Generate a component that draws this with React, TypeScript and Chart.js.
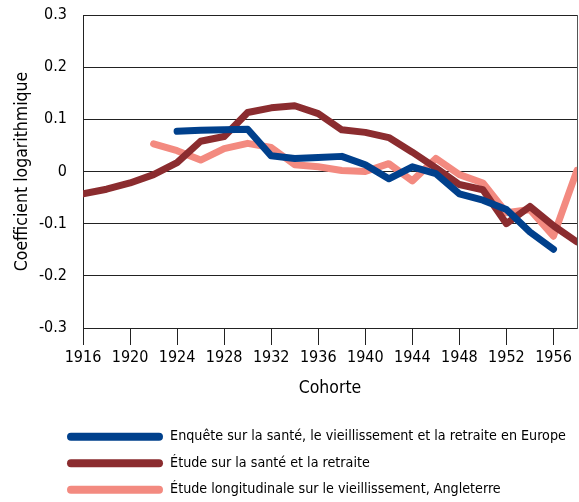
import React, { useEffect, useRef } from "react";
import { Chart, registerables } from "chart.js";

Chart.register(...registerables);

const years = [1916, 1918, 1920, 1922, 1924, 1926, 1928, 1930, 1932, 1934, 1936, 1938, 1940, 1942, 1944, 1946, 1948, 1950, 1952, 1954, 1956, 1958];

const shareValues = [null, null, null, null, 0.077, 0.079, 0.08, 0.081, 0.03, 0.025, 0.027, 0.029, 0.013, -0.014, 0.009, -0.004, -0.043, -0.055, -0.073, -0.116, -0.149, null];
const hrsValues = [-0.043, -0.034, -0.022, -0.006, 0.017, 0.058, 0.067, 0.113, 0.122, 0.126, 0.111, 0.08, 0.075, 0.065, 0.037, 0.007, -0.025, -0.035, -0.1, -0.067, -0.104, -0.135];
const elsaValues = [null, null, null, 0.053, 0.04, 0.022, 0.044, 0.054, 0.046, 0.013, 0.009, 0.002, 0.0, 0.015, -0.018, 0.025, -0.006, -0.022, -0.079, -0.073, -0.124, 0.002];

const seriesLabels = [
  "Enquête sur la santé, le vieillissement et la retraite en Europe",
  "Étude sur la santé et la retraite",
  "Étude longitudinale sur le vieillissement, Angleterre",
];

const xTickYears = [1916, 1920, 1924, 1928, 1932, 1936, 1940, 1944, 1948, 1952, 1956];
const yTickValues = [-0.3, -0.2, -0.1, 0, 0.1, 0.2, 0.3];

const xTitle = "Cohorte";
const yTitle = "Coefficient logarithmique";

const FONT = "'DejaVu Sans Condensed', 'DejaVu Sans', sans-serif";
const COLORS = ["#00408C", "#8B2C2F", "#F38A80"];

const legendShift = {
  id: "legendShift",
  afterLayout(chart: any) {
    const lg = chart.legend;
    if (lg) {
      lg.left += 54.7;
      lg.right += 54.7;
    }
  },
};

export default function App() {
  const ref = useRef<HTMLCanvasElement | null>(null);

  useEffect(() => {
    if (!ref.current) return;
    const toPts = (vals: (number | null)[]) => years.map((x, i) => ({ x, y: vals[i] }));
    const series = [shareValues, hrsValues, elsaValues];
    const chart = new Chart(ref.current, {
      type: "line",
      data: {
        datasets: series.map((vals, i) => ({
          label: seriesLabels[i],
          data: toPts(vals),
          borderColor: COLORS[i],
          backgroundColor: COLORS[i],
          borderWidth: 7,
          pointRadius: 0,
          tension: 0,
          borderCapStyle: "round",
          borderJoinStyle: "round",
          spanGaps: false,
        })),
      },
      options: {
        animation: false,
        responsive: false,
        layout: { padding: { top: 15, right: 2, left: 0, bottom: 0 } },
        plugins: {
          tooltip: { enabled: false },
          legend: {
            position: "bottom",
            align: "start",
            maxHeight: 84.7,
            labels: {
              boxWidth: 96,
              boxHeight: 8,
              padding: 12.3,
              color: "#000",
              font: { family: FONT, size: 14.2 },
              generateLabels: (c: any) =>
                Chart.defaults.plugins.legend.labels.generateLabels(c).map((it: any) => ({
                  ...it,
                  lineWidth: 0,
                  borderRadius: 4,
                })),
            },
          },
        },
        scales: {
          x: {
            type: "linear",
            min: years[0],
            max: years[years.length - 1],
            afterBuildTicks: (s: any) => {
              s.ticks = xTickYears.map((v) => ({ value: v }));
            },
            afterFit: (s: any) => {
              s.height = 89.3;
            },
            ticks: {
              color: "#000",
              padding: 3,
              font: { family: FONT, size: 16 },
              callback: (v: any) => String(v),
              maxRotation: 0,
              autoSkip: false,
            },
            grid: { drawOnChartArea: false, drawTicks: true, tickLength: 17, color: "#222" },
            border: { display: true, color: "#222" },
            title: {
              display: true,
              text: xTitle,
              color: "#000",
              font: { family: FONT, size: 17.5 },
              padding: { top: 0, bottom: 18 },
            },
          },
          y: {
            type: "linear",
            min: yTickValues[0],
            max: yTickValues[yTickValues.length - 1],
            afterBuildTicks: (s: any) => {
              s.ticks = yTickValues.map((v) => ({ value: v }));
            },
            afterFit: (s: any) => {
              s.width = 83;
              s.paddingTop = 0;
              s.paddingBottom = 0;
            },
            ticks: {
              color: "#000",
              padding: 16,
              font: { family: FONT, size: 16 },
              callback: (v: any) => String(Math.round(Number(v) * 10) / 10),
            },
            grid: { color: "#222", drawTicks: false },
            border: { display: true, color: "#222" },
            title: {
              display: true,
              text: yTitle,
              color: "#000",
              font: { family: FONT, size: 17.5 },
              padding: { top: 11.5, bottom: 0 },
            },
          },
          y2: {
            type: "linear",
            position: "right",
            min: yTickValues[0],
            max: yTickValues[yTickValues.length - 1],
            display: true,
            ticks: { display: false },
            grid: { display: false, drawTicks: false },
            border: { display: true, color: "#555" },
            afterFit: (s: any) => {
              s.width = 0;
              s.paddingTop = 0;
              s.paddingBottom = 0;
            },
          },
        },
      },
      plugins: [legendShift],
    } as any);
    return () => chart.destroy();
  }, []);

  return (
    <div style={{ position: "fixed", left: 0, top: 0, width: 579, height: 502, background: "#fff" }}>
      <canvas ref={ref} width={579} height={502} style={{ display: "block" }} />
    </div>
  );
}
